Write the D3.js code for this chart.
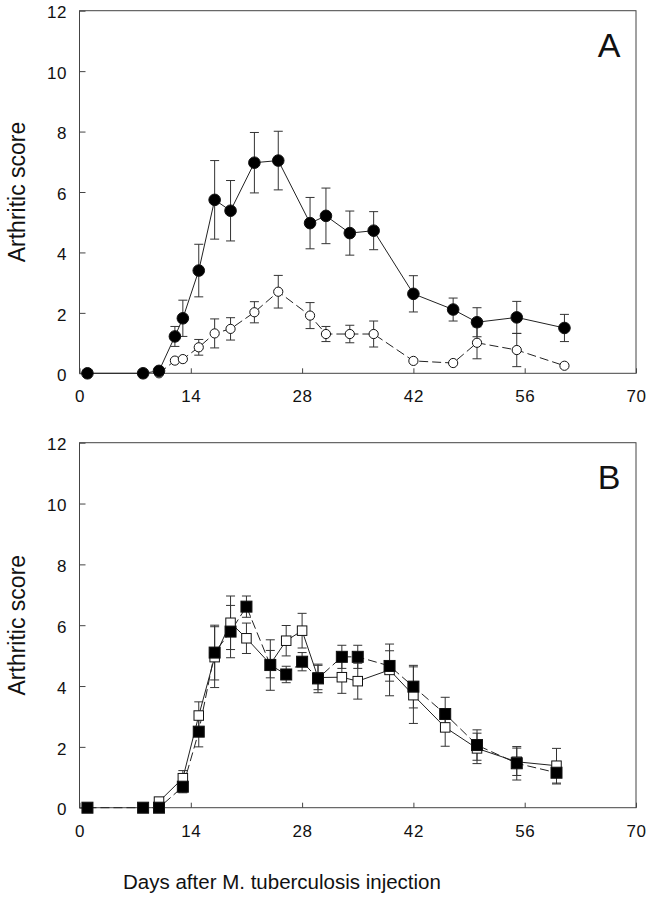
<!DOCTYPE html>
<html><head><meta charset="utf-8">
<script src="https://cdn.jsdelivr.net/npm/d3@7"></script>
<style>
body{margin:0;background:#fff;}
text{font-family:"Liberation Sans",Arial,Helvetica,sans-serif;fill:#111;}
</style></head>
<body>
<svg id="chart" width="653" height="900"></svg>
<script>
// ---- Data ----
const xTicks = [0, 14, 28, 42, 56, 70];
const yTicks = [0, 2, 4, 6, 8, 10, 12];

// Panel A: filled circles (solid line)
const aFilledDays = [1, 8, 10, 12, 13, 15, 17, 19, 22, 25, 29, 31, 34, 37, 42, 47, 50, 55, 61];
const aFilledMean = [0, 0, 0.08, 1.22, 1.82, 3.40, 5.74, 5.38, 6.97, 7.04, 4.97, 5.21, 4.64, 4.72, 2.63, 2.11, 1.69, 1.85, 1.50];
const aFilledErr  = [0, 0, 0, 0.33, 0.6, 0.87, 1.3, 1.0, 1.0, 0.97, 0.85, 0.92, 0.73, 0.63, 0.6, 0.38, 0.48, 0.53, 0.45];
// Panel A: open circles (dashed line)
const aOpenDays = [10, 12, 13, 15, 17, 19, 22, 25, 29, 31, 34, 37, 42, 47, 50, 55, 61];
const aOpenMean = [0, 0.42, 0.47, 0.86, 1.32, 1.47, 2.02, 2.70, 1.91, 1.30, 1.30, 1.30, 0.41, 0.34, 1.01, 0.77, 0.25];
const aOpenErr  = [0, 0, 0, 0.26, 0.48, 0.37, 0.35, 0.54, 0.43, 0.25, 0.29, 0.43, 0, 0, 0.53, 0.55, 0];

// Panel B: filled squares (dashed line)
const bFilledDays = [1, 8, 10, 13, 15, 17, 19, 21, 24, 26, 28, 30, 33, 35, 39, 42, 46, 50, 55, 60];
const bFilledMean = [0, 0, 0, 0.69, 2.50, 5.10, 5.79, 6.61, 4.69, 4.38, 4.80, 4.25, 4.96, 4.96, 4.66, 3.98, 3.08, 2.06, 1.46, 1.15];
const bFilledErr  = [0, 0, 0, 0.2, 0.5, 0.9, 0.86, 0.35, 0.83, 0.27, 0.3, 0.47, 0.38, 0.38, 0.5, 0.7, 0.55, 0.5, 0.55, 0.37];
// Panel B: open squares (solid line)
const bOpenDays = [10, 13, 15, 17, 19, 21, 24, 26, 28, 30, 33, 35, 39, 42, 46, 50, 55, 60];
const bOpenMean = [0.2, 0.97, 3.03, 4.95, 6.08, 5.57, 4.72, 5.49, 5.82, 4.28, 4.29, 4.16, 4.53, 3.70, 2.64, 1.95, 1.51, 1.38];
const bOpenErr  = [0, 0.25, 0.45, 1.0, 0.88, 0.5, 0.45, 0.5, 0.57, 0.4, 0.53, 0.59, 0.85, 0.93, 0.62, 0.5, 0.45, 0.57];

const yTitle = "Arthritic score";
const xTitle = "Days after M. tuberculosis injection";

// ---- Drawing ----
const svg = d3.select("#chart");
const x = d3.scaleLinear().domain([0, 70]).range([79.5, 636]);

function zip(days, mean, err){ return days.map((d,i)=>({d, v:mean[i], e:err[i]})); }

function panel(top, bottom, letter, series){
  const y = d3.scaleLinear().domain([0, 12]).range([bottom, top]);
  const g = svg.append("g");
  // frame
  g.append("rect").attr("x", x(0)).attr("y", y(12))
    .attr("width", x(70) - x(0)).attr("height", y(0) - y(12))
    .attr("fill", "none").attr("stroke", "#444").attr("stroke-width", 1);
  // axes
  const ax = g.append("g").attr("transform", `translate(0,${y(0)})`)
    .call(d3.axisBottom(x).tickValues(xTicks).tickSizeInner(-5).tickSizeOuter(0).tickPadding(17));
  const ay = g.append("g").attr("transform", `translate(${x(0)},0)`)
    .call(d3.axisLeft(y).tickValues(yTicks).tickSizeInner(-6).tickSizeOuter(0).tickPadding(12.5));
  [ax, ay].forEach(a => {
    a.select(".domain").remove();
    a.selectAll(".tick line").attr("stroke", "#444");
    a.selectAll("text").attr("font-size", 17).attr("fill", "#111")
      .attr("letter-spacing", "0.6px")
      .attr("font-family", '"Liberation Sans",Arial,sans-serif');
  });
  ay.selectAll("text").attr("dy", "0.42em");
  // y title
  g.append("text").attr("transform", `translate(25,${(y(0)+y(12))/2}) rotate(-90)`)
    .attr("text-anchor", "middle").attr("font-size", 23).text(yTitle);
  // panel letter
  g.append("text").attr("x", 609).attr("y", y(12) + 46).attr("text-anchor", "middle")
    .attr("font-size", 34).text(letter);

  // lines
  series.forEach(s => {
    g.append("path").datum(s.data)
      .attr("d", d3.line().x(p => x(p.d)).y(p => y(p.v)))
      .attr("fill", "none").attr("stroke", "#222").attr("stroke-width", 1)
      .attr("stroke-dasharray", s.dashed ? "9,4" : null);
  });
  // error bars
  series.forEach(s => {
    const eb = g.append("g").attr("stroke", "#333").attr("stroke-width", 1);
    s.data.filter(p => p.e > 0).forEach(p => {
      const cx = x(p.d), y1 = y(p.v + p.e), y2 = y(p.v - p.e);
      eb.append("line").attr("x1", cx).attr("x2", cx).attr("y1", y1).attr("y2", y2);
      eb.append("line").attr("x1", cx-4.5).attr("x2", cx+4.5).attr("y1", y1).attr("y2", y1);
      eb.append("line").attr("x1", cx-4.5).attr("x2", cx+4.5).attr("y1", y2).attr("y2", y2);
    });
  });
  // markers (open first, filled on top)
  series.slice().sort((a,b)=> (a.filled?1:0)-(b.filled?1:0)).forEach(s => {
    const mg = g.append("g");
    if (s.shape === "circle") {
      mg.selectAll("circle").data(s.data).join("circle")
        .attr("cx", p => x(p.d)).attr("cy", p => y(p.v))
        .attr("r", s.filled ? 5.8 : 4.6)
        .attr("fill", s.filled ? "#000" : "#fff")
        .attr("stroke", "#111").attr("stroke-width", 1);
    } else {
      const sz = s.filled ? 11 : 9.5;
      mg.selectAll("rect").data(s.data).join("rect")
        .attr("x", p => x(p.d) - sz/2).attr("y", p => y(p.v) - sz/2)
        .attr("width", sz).attr("height", sz)
        .attr("fill", s.filled ? "#000" : "#fff")
        .attr("stroke", "#111").attr("stroke-width", 1);
    }
  });
}

panel(10.7, 373.3, "A", [
  {data: zip(aOpenDays, aOpenMean, aOpenErr), shape: "circle", filled: false, dashed: true},
  {data: zip(aFilledDays, aFilledMean, aFilledErr), shape: "circle", filled: true, dashed: false}
]);
panel(442.7, 807.7, "B", [
  {data: zip(bOpenDays, bOpenMean, bOpenErr), shape: "square", filled: false, dashed: false},
  {data: zip(bFilledDays, bFilledMean, bFilledErr), shape: "square", filled: true, dashed: true}
]);

svg.append("text").attr("x", 282).attr("y", 889).attr("text-anchor", "middle")
  .attr("font-size", 20.5).text(xTitle);
</script>
</body></html>
